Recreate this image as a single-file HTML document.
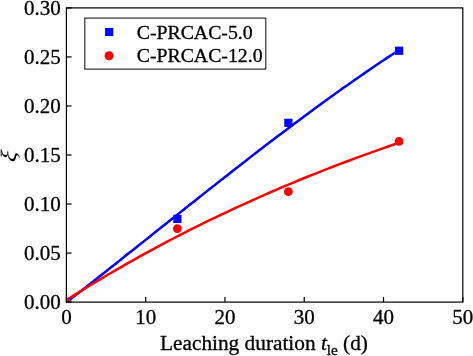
<!DOCTYPE html>
<html lang="en">
<head>
<meta charset="utf-8">
<title>Leaching duration chart</title>
<style>
html,body{margin:0;padding:0;background:#fff;overflow:hidden}
body{width:473px;height:356px}
svg{display:block;will-change:transform}
text{font-family:"Liberation Serif","DejaVu Serif",serif;fill:#000;stroke:#000;stroke-width:0.3px}
</style>
</head>
<body>
<svg width="473" height="356" viewBox="0 0 473 356">
<rect x="0" y="0" width="473" height="356" fill="#ffffff"/>
<defs><clipPath id="ax"><rect x="66.4" y="7.9" width="396.4" height="294.20000000000005"/></clipPath></defs>
<g clip-path="url(#ax)" fill="none" stroke-linecap="butt" stroke-linejoin="round">
<path d="M66.40,302.45 L71.95,298.12 L77.50,293.78 L83.05,289.44 L88.60,285.08 L94.15,280.71 L99.70,276.33 L105.25,271.95 L110.80,267.56 L116.35,263.16 L121.90,258.76 L127.45,254.35 L133.00,249.94 L138.54,245.52 L144.09,241.11 L149.64,236.69 L155.19,232.27 L160.74,227.85 L166.29,223.44 L171.84,219.02 L177.39,214.61 L182.94,210.20 L188.49,205.80 L194.04,201.40 L199.59,197.00 L205.14,192.62 L210.69,188.24 L216.24,183.87 L221.79,179.51 L227.34,175.16 L232.89,170.82 L238.44,166.49 L243.99,162.18 L249.54,157.88 L255.09,153.59 L260.64,149.32 L266.19,145.06 L271.74,140.82 L277.28,136.60 L282.83,132.39 L288.38,128.21 L293.93,124.05 L299.48,119.90 L305.03,115.78 L310.58,111.68 L316.13,107.60 L321.68,103.55 L327.23,99.52 L332.78,95.52 L338.33,91.55 L343.88,87.60 L349.43,83.68 L354.98,79.79 L360.53,75.93 L366.08,72.10 L371.63,68.30 L377.18,64.53 L382.73,60.80 L388.28,57.10 L393.83,53.43 L399.38,49.80" stroke="#0000ff" stroke-width="2.5"/>
<path d="M66.40,300.14 L71.95,296.62 L77.50,293.15 L83.05,289.71 L88.60,286.30 L94.15,282.93 L99.70,279.60 L105.25,276.30 L110.80,273.03 L116.35,269.80 L121.90,266.60 L127.45,263.43 L133.00,260.30 L138.54,257.20 L144.09,254.13 L149.64,251.10 L155.19,248.09 L160.74,245.12 L166.29,242.17 L171.84,239.26 L177.39,236.38 L182.94,233.53 L188.49,230.71 L194.04,227.91 L199.59,225.15 L205.14,222.41 L210.69,219.71 L216.24,217.03 L221.79,214.38 L227.34,211.76 L232.89,209.16 L238.44,206.59 L243.99,204.05 L249.54,201.53 L255.09,199.04 L260.64,196.58 L266.19,194.14 L271.74,191.73 L277.28,189.34 L282.83,186.97 L288.38,184.63 L293.93,182.32 L299.48,180.03 L305.03,177.76 L310.58,175.52 L316.13,173.30 L321.68,171.10 L327.23,168.93 L332.78,166.78 L338.33,164.65 L343.88,162.54 L349.43,160.46 L354.98,158.39 L360.53,156.35 L366.08,154.33 L371.63,152.33 L377.18,150.35 L382.73,148.39 L388.28,146.45 L393.83,144.54 L399.38,142.64" stroke="#ff0000" stroke-width="2.5"/>
</g>
<g clip-path="url(#ax)">
<rect x="62.30" y="298.00" width="8.2" height="8.2" fill="#0000ff"/>
<rect x="173.29" y="214.84" width="8.2" height="8.2" fill="#0000ff"/>
<rect x="284.28" y="118.73" width="8.2" height="8.2" fill="#0000ff"/>
<rect x="395.04" y="46.66" width="8.2" height="8.2" fill="#0000ff"/>
<circle cx="66.40" cy="302.10" r="4.4" fill="#ff0000"/>
<circle cx="177.39" cy="228.55" r="4.4" fill="#ff0000"/>
<circle cx="288.38" cy="191.68" r="4.4" fill="#ff0000"/>
<circle cx="399.06" cy="141.47" r="4.4" fill="#ff0000"/>
</g>
<rect x="66.4" y="7.9" width="396.4" height="294.20000000000005" fill="none" stroke="#000" stroke-width="1.2"/>
<g stroke="#000" stroke-width="1.2">
<line x1="66.40" y1="302.1" x2="66.40" y2="296.90000000000003"/>
<line x1="145.68" y1="302.1" x2="145.68" y2="296.90000000000003"/>
<line x1="224.96" y1="302.1" x2="224.96" y2="296.90000000000003"/>
<line x1="304.24" y1="302.1" x2="304.24" y2="296.90000000000003"/>
<line x1="383.52" y1="302.1" x2="383.52" y2="296.90000000000003"/>
<line x1="462.80" y1="302.1" x2="462.80" y2="296.90000000000003"/>
<line x1="66.4" y1="302.10" x2="71.60000000000001" y2="302.10"/>
<line x1="66.4" y1="253.07" x2="71.60000000000001" y2="253.07"/>
<line x1="66.4" y1="204.03" x2="71.60000000000001" y2="204.03"/>
<line x1="66.4" y1="155.00" x2="71.60000000000001" y2="155.00"/>
<line x1="66.4" y1="105.97" x2="71.60000000000001" y2="105.97"/>
<line x1="66.4" y1="56.93" x2="71.60000000000001" y2="56.93"/>
<line x1="66.4" y1="7.90" x2="71.60000000000001" y2="7.90"/>
</g>
<g font-size="21" text-anchor="middle">
<text x="66.40" y="324.1">0</text>
<text x="145.68" y="324.1">10</text>
<text x="224.96" y="324.1">20</text>
<text x="304.24" y="324.1">30</text>
<text x="383.52" y="324.1">40</text>
<text x="462.80" y="324.1">50</text>
</g>
<g font-size="21" text-anchor="end">
<text x="60.8" y="308.80">0.00</text>
<text x="60.8" y="259.77">0.05</text>
<text x="60.8" y="210.73">0.10</text>
<text x="60.8" y="161.70">0.15</text>
<text x="60.8" y="112.67">0.20</text>
<text x="60.8" y="63.63">0.25</text>
<text x="60.8" y="14.60">0.30</text>
</g>
<text x="264" y="350.0" font-size="21.3" text-anchor="middle">Leaching duration <tspan font-style="italic">t</tspan><tspan font-size="15.2" dy="4.8">le</tspan><tspan dy="-4.8"> (d)</tspan></text>
<text transform="translate(16.0,157.4) rotate(-90) skewX(-10) scale(1.2,1.05)" font-size="21" font-style="italic" text-anchor="middle" style="stroke-width:0">ξ</text>
<rect x="84.8" y="18.1" width="181.0" height="51.0" fill="#fff" stroke="#1a1a1a" stroke-width="1.1"/>
<rect x="105.10" y="27.90" width="8.2" height="8.2" fill="#0000ff"/>
<circle cx="109.1" cy="55.8" r="4.5" fill="#ff0000"/>
<g font-size="19.8"><text x="136.7" y="38.5">C-PRCAC-5.0</text><text x="136.7" y="62.4">C-PRCAC-12.0</text></g>
</svg>
</body>
</html>
